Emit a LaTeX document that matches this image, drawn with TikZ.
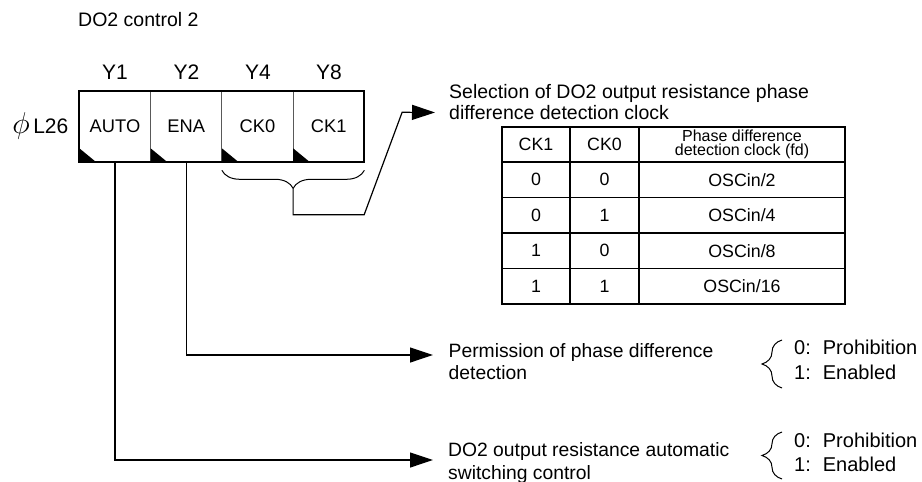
\documentclass[tikz,border=0pt]{standalone}
\usepackage{fontspec}
\usepackage{graphicx}
\setmainfont{Liberation Sans}
\usetikzlibrary{arrows.meta, positioning, calc, decorations.pathreplacing}

\begin{document}
\begin{tikzpicture}[
        x=1pt, y=1pt,
        font=\fontsize{19.3}{22}\selectfont,
        >={Triangle[length=23pt, width=15pt]},
        cell/.style={draw=black!65, line width=0.8pt, minimum width=71.25pt, minimum height=71.6pt, inner sep=0pt, outer sep=0pt, font=\fontsize{18.3}{20}\selectfont},
        bitlbl/.style={font=\fontsize{21}{24}\selectfont, inner sep=0pt},
        desc/.style={align=left, anchor=north west, inner sep=0pt},
        opt/.style={anchor=base west, inner sep=0pt, font=\fontsize{20}{22}\selectfont},
        tcell/.style={draw, line width=1.2pt, minimum height=35.5pt, inner sep=0pt, outer sep=0pt, font=\fontsize{17.8}{19}\selectfont},
        conn/.style={line width=1.2pt},
        brc/.style={decorate, decoration={brace, amplitude=#1}, line width=1pt}
    ]
        \useasboundingbox (0,0) rectangle (922,-482);

        % --- Register ---
        \node[anchor=west, inner sep=0pt, font=\fontsize{19.5}{22}\selectfont] (title) at (78,-20) {DO2 control 2};

        \node[cell] (auto) at (115,-126.5) {AUTO};
        \node[cell, right=0pt of auto] (ena) {ENA};
        \node[cell, right=0pt of ena] (ck0) {CK0};
        \node[cell, right=0pt of ck0] (ck1) {CK1};
        \draw[line width=1.8pt] (auto.north west) rectangle (ck1.south east);

        \fill (auto.south west) -- ++(0,14) -- ++(17,-14) -- cycle;
        \fill (ena.south west) -- ++(0,14) -- ++(17,-14) -- cycle;
        \fill (ck0.south west) -- ++(0,14) -- ++(17,-14) -- cycle;
        \fill (ck1.south west) -- ++(0,14) -- ++(17,-14) -- cycle;

        \node[bitlbl] (y1) at (115,-72.5) {Y1};
        \node[bitlbl] (y2) at (186.5,-72.5) {Y2};
        \node[bitlbl] (y4) at (258,-72.5) {Y4};
        \node[bitlbl] (y8) at (329,-72.5) {Y8};
        \node[bitlbl, anchor=east] (reg) at (68.5,-126) {\raisebox{-0.5pt}{\scalebox{1.45}{$\phi$}}\,L26};

        % --- Clock selection ---
        \node[desc, font=\fontsize{19.5}{21}\selectfont] (sel) at (449,-84.5) {Selection of DO2 output resistance phase\\difference detection clock};

        \draw[brc=18pt] ([yshift=-8pt]ck1.south east) -- ([yshift=-8pt]ck0.south west);
        \coordinate (cktip) at ([yshift=-26pt]ck0.south east);
        \draw[conn, ->] (cktip) |- ++(71,-26.5) -- ++(38,102.5) -- ([xshift=-14pt, yshift=-28pt]sel.north west);

        \node[tcell, minimum width=68pt, minimum height=35pt] (hck1) at (536,-144.5) {CK1};
        \node[tcell, minimum width=69pt, minimum height=35pt, right=0pt of hck1] (hck0) {CK0};
        \node[tcell, minimum width=206pt, minimum height=35pt, right=0pt of hck0, align=center, font=\fontsize{16}{14.5}\selectfont] (hfd) {Phase difference\\detection clock (fd)};

        \node[tcell, minimum width=68pt, below=0pt of hck1] (a1) {0};
        \node[tcell, minimum width=69pt, right=0pt of a1] (a0) {0};
        \node[tcell, minimum width=206pt, right=0pt of a0] (afd) {OSCin/2};
        \node[tcell, minimum width=68pt, below=0pt of a1] (b1) {0};
        \node[tcell, minimum width=69pt, right=0pt of b1] (b0) {1};
        \node[tcell, minimum width=206pt, right=0pt of b0] (bfd) {OSCin/4};
        \node[tcell, minimum width=68pt, below=0pt of b1] (c1) {1};
        \node[tcell, minimum width=69pt, right=0pt of c1] (c0) {0};
        \node[tcell, minimum width=206pt, right=0pt of c0] (cfd) {OSCin/8};
        \node[tcell, minimum width=68pt, below=0pt of c1] (d1) {1};
        \node[tcell, minimum width=69pt, right=0pt of d1] (d0) {1};
        \node[tcell, minimum width=206pt, right=0pt of d0] (dfd) {OSCin/16};

        % --- Phase difference detection ---
        \node[desc] (perm) at (448.5,-343.2) {Permission of phase difference\\detection};
        \draw[conn, ->] (ena.south) |- ([xshift=-15.5pt, yshift=-11.8pt]perm.north west);

        \node[opt] (perm0) at (794,-354) {0:\hspace{12pt}Prohibition};
        \node[opt] (perm1) at (794,-379) {1:\hspace{12pt}Enabled};
        \draw[brc=20pt] (782,-388) -- (782,-340);

        % --- Automatic switching ---
        \node[desc, font=\fontsize{19.3}{23}\selectfont] (autosw) at (448,-442.2) {DO2 output resistance automatic\\switching control};
        \draw[conn, ->] (auto.south) |- ([xshift=-15pt, yshift=-17.8pt]autosw.north west);

        \node[opt] (auto0) at (794,-447) {0:\hspace{12pt}Prohibition};
        \node[opt] (auto1) at (794,-471) {1:\hspace{12pt}Enabled};
        \draw[brc=20pt] (782,-479) -- (782,-432);
    \end{tikzpicture}
\end{document}
